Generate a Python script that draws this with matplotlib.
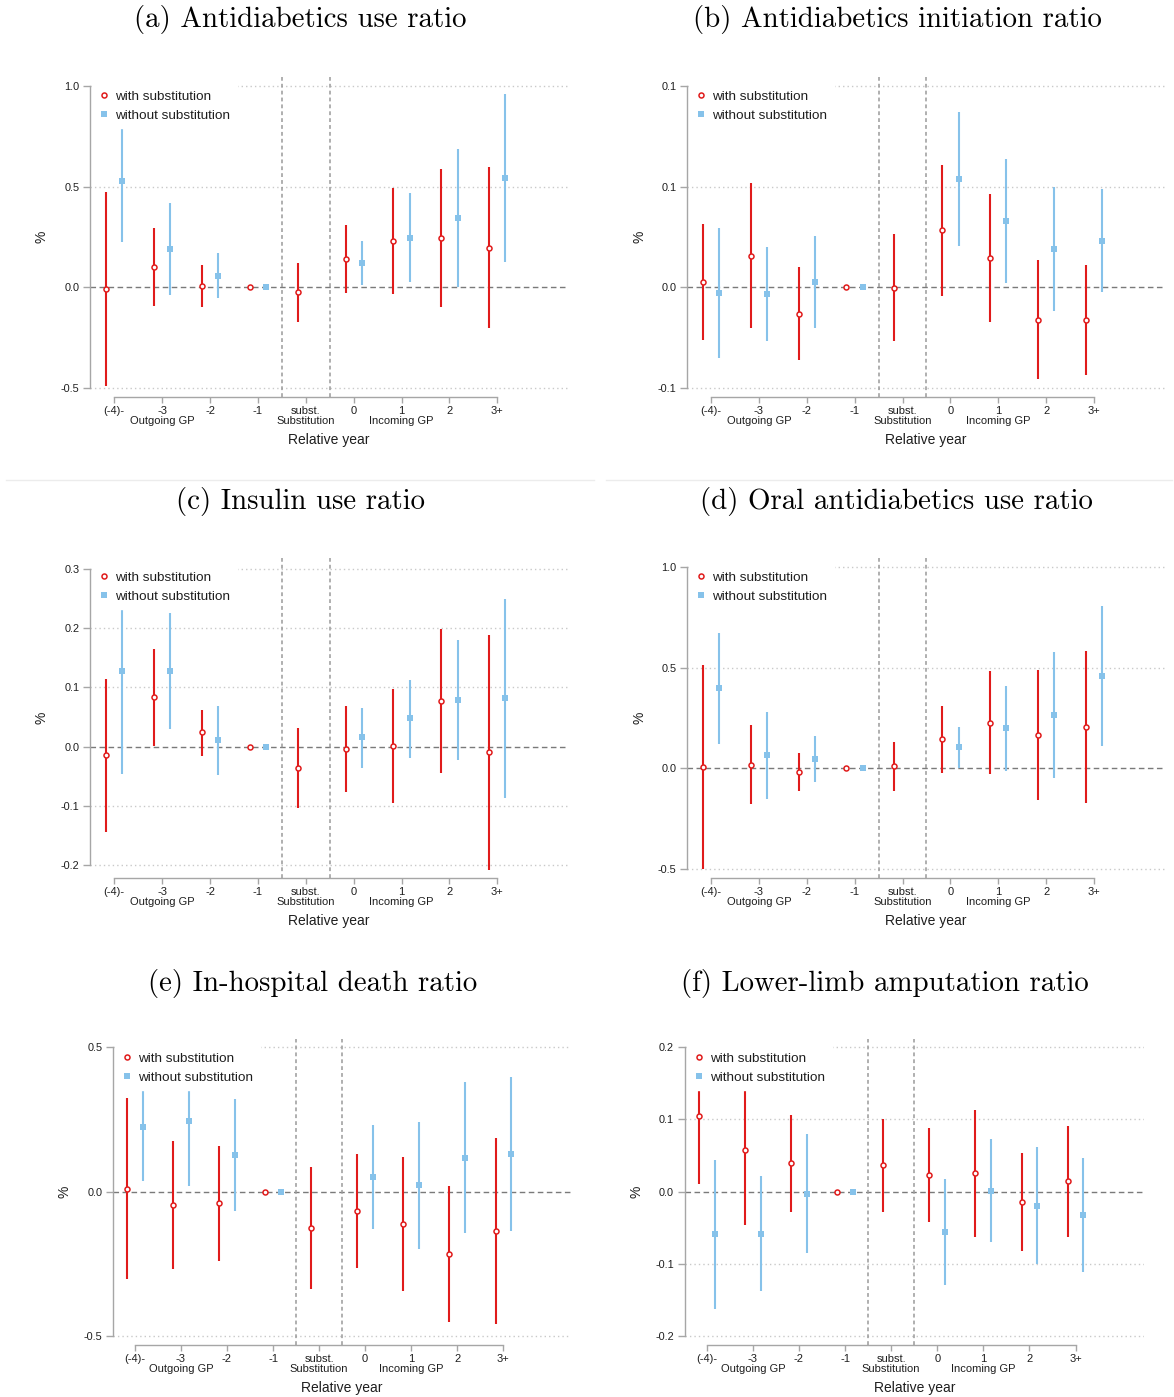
import numpy as np
import matplotlib
matplotlib.use("Agg")
import matplotlib.pyplot as plt
from matplotlib.lines import Line2D

nan = np.nan
W, H = 1174, 1397

# ---------------- data ----------------
categories = ["(-4)-", "-3", "-2", "-1", "subst.", "0", "1", "2", "3+"]
tick_labels = ["(-4)-", "-3\nOutgoing GP", "-2", "-1", "subst.\nSubstitution",
               "0", "1\nIncoming GP", "2", "3+"]
series_names = ["with substitution", "without substitution"]
titles = ["(a) Antidiabetics use ratio", "(b) Antidiabetics initiation ratio",
          "(c) Insulin use ratio", "(d) Oral antidiabetics use ratio",
          "(e) In-hospital death ratio", "(f) Lower-limb amputation ratio"]
x_title = "Relative year"
y_title = "%"

# (a) Antidiabetics use ratio
a_w_est = [-0.008, 0.102, 0.007, 0.0, -0.025, 0.140, 0.228, 0.245, 0.197]
a_w_lo = [-0.490, -0.093, -0.099, nan, -0.169, -0.028, -0.033, -0.099, -0.202]
a_w_hi = [0.472, 0.297, 0.112, nan, 0.122, 0.311, 0.491, 0.588, 0.595]
a_o_est = [0.527, 0.190, 0.056, 0.0, nan, 0.121, 0.245, 0.344, 0.542]
a_o_lo = [0.225, -0.036, -0.053, nan, nan, 0.012, 0.025, 0.002, 0.126]
a_o_hi = [0.791, 0.420, 0.170, nan, nan, 0.230, 0.468, 0.686, 0.957]
a_yticks = [-0.5, 0.0, 0.5, 1.0]
a_ylabels = ["-0.5", "0.0", "0.5", "1.0"]

# (b) Antidiabetics initiation ratio
b_w_est = [0.0026, 0.0157, -0.0131, 0.0, -0.0003, 0.0284, 0.0145, -0.0159, -0.0162]
b_w_lo = [-0.0263, -0.0202, -0.0360, nan, -0.0268, -0.0041, -0.0173, -0.0456, -0.0434]
b_w_hi = [0.0316, 0.0517, 0.0099, nan, 0.0264, 0.0608, 0.0464, 0.0137, 0.0112]
b_o_est = [-0.0028, -0.0033, 0.0026, 0.0, nan, 0.0537, 0.0329, 0.0190, 0.0230]
b_o_lo = [-0.0352, -0.0264, -0.0203, nan, nan, 0.0203, 0.0020, -0.0116, -0.0025]
b_o_hi = [0.0296, 0.0200, 0.0256, nan, nan, 0.0871, 0.0636, 0.0497, 0.0487]
b_yticks = [-0.05, 0.0, 0.05, 0.10]
b_ylabels = ["-0.1", "0.0", "0.1", "0.1"]

# (c) Insulin use ratio
c_w_est = [-0.015, 0.083, 0.024, 0.0, -0.0355, -0.004, 0.001, 0.077, -0.0096]
c_w_lo = [-0.145, 0.001, -0.016, nan, -0.103, -0.076, -0.095, -0.044, -0.208]
c_w_hi = [0.114, 0.165, 0.062, nan, 0.032, 0.068, 0.097, 0.199, 0.188]
c_o_est = [0.127, 0.127, 0.011, 0.0, nan, 0.016, 0.048, 0.078, 0.082]
c_o_lo = [-0.047, 0.030, -0.048, nan, nan, -0.036, -0.019, -0.022, -0.086]
c_o_hi = [0.233, 0.226, 0.069, nan, nan, 0.066, 0.113, 0.180, 0.250]
c_yticks = [-0.2, -0.1, 0.0, 0.1, 0.2, 0.3]
c_ylabels = ["-0.2", "-0.1", "0.0", "0.1", "0.2", "0.3"]

# (d) Oral antidiabetics use ratio
d_w_est = [0.005, 0.018, -0.018, 0.0, 0.010, 0.144, 0.227, 0.166, 0.206]
d_w_lo = [-0.502, -0.177, -0.111, nan, -0.111, -0.022, -0.030, -0.157, -0.171]
d_w_hi = [0.514, 0.215, 0.076, nan, 0.131, 0.312, 0.482, 0.489, 0.585]
d_o_est = [0.398, 0.065, 0.045, 0.0, nan, 0.104, 0.199, 0.264, 0.457]
d_o_lo = [0.123, -0.151, -0.066, nan, nan, 0.000, -0.012, -0.046, 0.109]
d_o_hi = [0.673, 0.280, 0.161, nan, nan, 0.206, 0.408, 0.577, 0.807]
d_yticks = [-0.5, 0.0, 0.5, 1.0]
d_ylabels = ["-0.5", "0.0", "0.5", "1.0"]

# (e) In-hospital death ratio
e_w_est = [0.010, -0.046, -0.040, 0.0, -0.127, -0.068, -0.112, -0.217, -0.136]
e_w_lo = [-0.302, -0.267, -0.240, nan, -0.336, -0.265, -0.344, -0.453, -0.459]
e_w_hi = [0.324, 0.175, 0.158, nan, 0.084, 0.129, 0.121, 0.020, 0.185]
e_o_est = [0.224, 0.244, 0.127, 0.0, nan, 0.051, 0.023, 0.116, 0.130]
e_o_lo = [0.035, 0.018, -0.067, nan, nan, -0.129, -0.199, -0.144, -0.138]
e_o_hi = [0.410, 0.470, 0.320, nan, nan, 0.230, 0.241, 0.378, 0.395]
e_yticks = [-0.5, 0.0, 0.5]
e_ylabels = ["-0.5", "0.0", "0.5"]

# (f) Lower-limb amputation ratio
f_w_est = [0.105, 0.057, 0.039, 0.0, 0.036, 0.023, 0.025, -0.014, 0.014]
f_w_lo = [0.010, -0.047, -0.029, nan, -0.029, -0.042, -0.063, -0.082, -0.063]
f_w_hi = [0.200, 0.160, 0.106, nan, 0.101, 0.088, 0.113, 0.053, 0.090]
f_o_est = [-0.0585, -0.0585, -0.003, 0.0, nan, -0.056, 0.001, -0.020, -0.032]
f_o_lo = [-0.162, -0.138, -0.085, nan, nan, -0.130, -0.070, -0.100, -0.112]
f_o_hi = [0.044, 0.022, 0.080, nan, nan, 0.017, 0.072, 0.061, 0.047]
f_yticks = [-0.2, -0.1, 0.0, 0.1, 0.2]
f_ylabels = ["-0.2", "-0.1", "0.0", "0.1", "0.2"]

panel_data = [
    (a_w_est, a_w_lo, a_w_hi, a_o_est, a_o_lo, a_o_hi, a_yticks, a_ylabels),
    (b_w_est, b_w_lo, b_w_hi, b_o_est, b_o_lo, b_o_hi, b_yticks, b_ylabels),
    (c_w_est, c_w_lo, c_w_hi, c_o_est, c_o_lo, c_o_hi, c_yticks, c_ylabels),
    (d_w_est, d_w_lo, d_w_hi, d_o_est, d_o_lo, d_o_hi, d_yticks, d_ylabels),
    (e_w_est, e_w_lo, e_w_hi, e_o_est, e_o_lo, e_o_hi, e_yticks, e_ylabels),
    (f_w_est, f_w_lo, f_w_hi, f_o_est, f_o_lo, f_o_hi, f_yticks, f_ylabels),
]

# ---------------- layout (pixels) ----------------
layout = [
    dict(box=(90, 77, 568, 397), xt=(114.3, 497.3), yt=(85.7, 388.3), title=(300, 20)),
    dict(box=(687, 77, 1165, 397), xt=(711.0, 1094.0), yt=(85.7, 388.3), title=(897, 20)),
    dict(box=(90, 558, 568, 878), xt=(114.3, 497.3), yt=(569, 865), title=(300, 501)),
    dict(box=(687, 558, 1165, 878), xt=(711.0, 1094.0), yt=(567, 869), title=(896.5, 501)),
    dict(box=(112.7, 1039, 571, 1345), xt=(134.8, 503.4), yt=(1047, 1336), title=(312.5, 983)),
    dict(box=(684.5, 1039, 1144, 1345), xt=(706.8, 1075.5), yt=(1047, 1336), title=(884.5, 983)),
]

RED = "#e01b1b"
BLUE = "#86c2ea"
AXC = "#a6a6a6"
TXT = "#1e1e1e"
SANS = "Liberation Sans"
OFF = 0.17

fig = plt.figure(figsize=(W / 100, H / 100), dpi=100)
fig.patch.set_facecolor("white")

for (w_est, w_lo, w_hi, o_est, o_lo, o_hi, yticks, ylabels), lay, title in zip(panel_data, layout, titles):
    L, T, R, B = lay["box"]
    ax = fig.add_axes([L / W, 1 - B / H, (R - L) / W, (B - T) / H])
    n = len(categories)
    x = np.arange(n)
    p0, p8 = lay["xt"]
    ppu = (p8 - p0) / (n - 1)
    ax.set_xlim((L - p0) / ppu, (R - p0) / ppu)
    ptop, pbot = lay["yt"]
    vtop, vbot = yticks[-1], yticks[0]
    upp = (vtop - vbot) / (pbot - ptop)
    ax.set_ylim(vbot - (B - pbot) * upp, vtop + (ptop - T) * upp)

    for v in yticks:
        if v != 0:
            ax.axhline(v, color="#c9c9c9", lw=1.0, ls=(0, (1, 2.2)), zorder=1)
    ax.axhline(0, color="#7a7a7a", lw=1.0, ls=(0, (4, 2.5)), zorder=1)
    for xv in (3.5, 4.5):
        ax.axvline(xv, color="#9a9a9a", lw=1.1, ls=(0, (2.5, 2)), zorder=1)

    xr = x - OFF
    xb = x + OFF
    ax.vlines(xr, w_lo, w_hi, color=RED, lw=1.5, zorder=3)
    ax.plot(xr, w_est, ls="none", marker="o", ms=3.6, mfc="white", mec=RED, mew=1.1, zorder=4)
    ax.vlines(xb, o_lo, o_hi, color=BLUE, lw=1.5, zorder=3)
    ax.plot(xb, o_est, ls="none", marker="s", ms=4.7, mfc=BLUE, mec=BLUE, mew=0, zorder=4)

    for s in ("top", "right"):
        ax.spines[s].set_visible(False)
    for s in ("left", "bottom"):
        ax.spines[s].set_color(AXC)
        ax.spines[s].set_linewidth(1.0)
        ax.spines[s].set_zorder(12)
    ax.spines["left"].set_bounds(yticks[0], yticks[-1])
    ax.spines["bottom"].set_bounds(0, n - 1)
    ax.set_yticks(yticks)
    ax.set_yticklabels(ylabels, fontsize=7.8, family=SANS, color=TXT)
    ax.set_xticks(x)
    ax.set_xticklabels(tick_labels, fontsize=8, family=SANS, color=TXT)
    for lab in ax.get_xticklabels():
        lab.set_linespacing(1.05)
    ax.tick_params(axis="y", length=5, width=1, color=AXC, pad=2.5)
    ax.tick_params(axis="x", length=4.5, width=1, color=AXC, pad=2.0)

    handles = [
        Line2D([], [], ls="none", marker="o", ms=3.6, mfc="white", mec=RED, mew=1.1),
        Line2D([], [], ls="none", marker="s", ms=4.7, mfc=BLUE, mec=BLUE, mew=0),
    ]
    leg = ax.legend(handles, series_names, loc="upper left",
                    bbox_to_anchor=(2 / (R - L), 1 - 6.5 / (B - T)), borderaxespad=0,
                    frameon=True, fancybox=False, framealpha=1,
                    facecolor="white", edgecolor="white",
                    prop={"family": SANS, "size": 9.7},
                    handlelength=0.8, handletextpad=0.43, borderpad=0.5,
                    labelspacing=0.48)
    leg.set_zorder(10)
    for t in leg.get_texts():
        t.set_color(TXT)

    fig.text((L + R) / 2 / W, 1 - (B + 43) / H, x_title, ha="center", va="center",
             fontsize=10, family=SANS, color=TXT)
    fig.text((L - 48) / W, 1 - ((T + B) / 2) / H, y_title, ha="center", va="center",
             rotation=90, fontsize=10, family=SANS, color=TXT)

    tx, ty = lay["title"]
    fig.text(tx / W, 1 - ty / H, title, ha="center", va="center",
             fontsize=20.8, family="cmr10", color="black")

fig.add_artist(Line2D([6 / W, 594 / W], [1 - 480 / H] * 2, color="#ececec", lw=1))
fig.add_artist(Line2D([606 / W, 1172 / W], [1 - 480 / H] * 2, color="#ececec", lw=1))

fig.savefig("out.png", dpi=100, facecolor="white")
